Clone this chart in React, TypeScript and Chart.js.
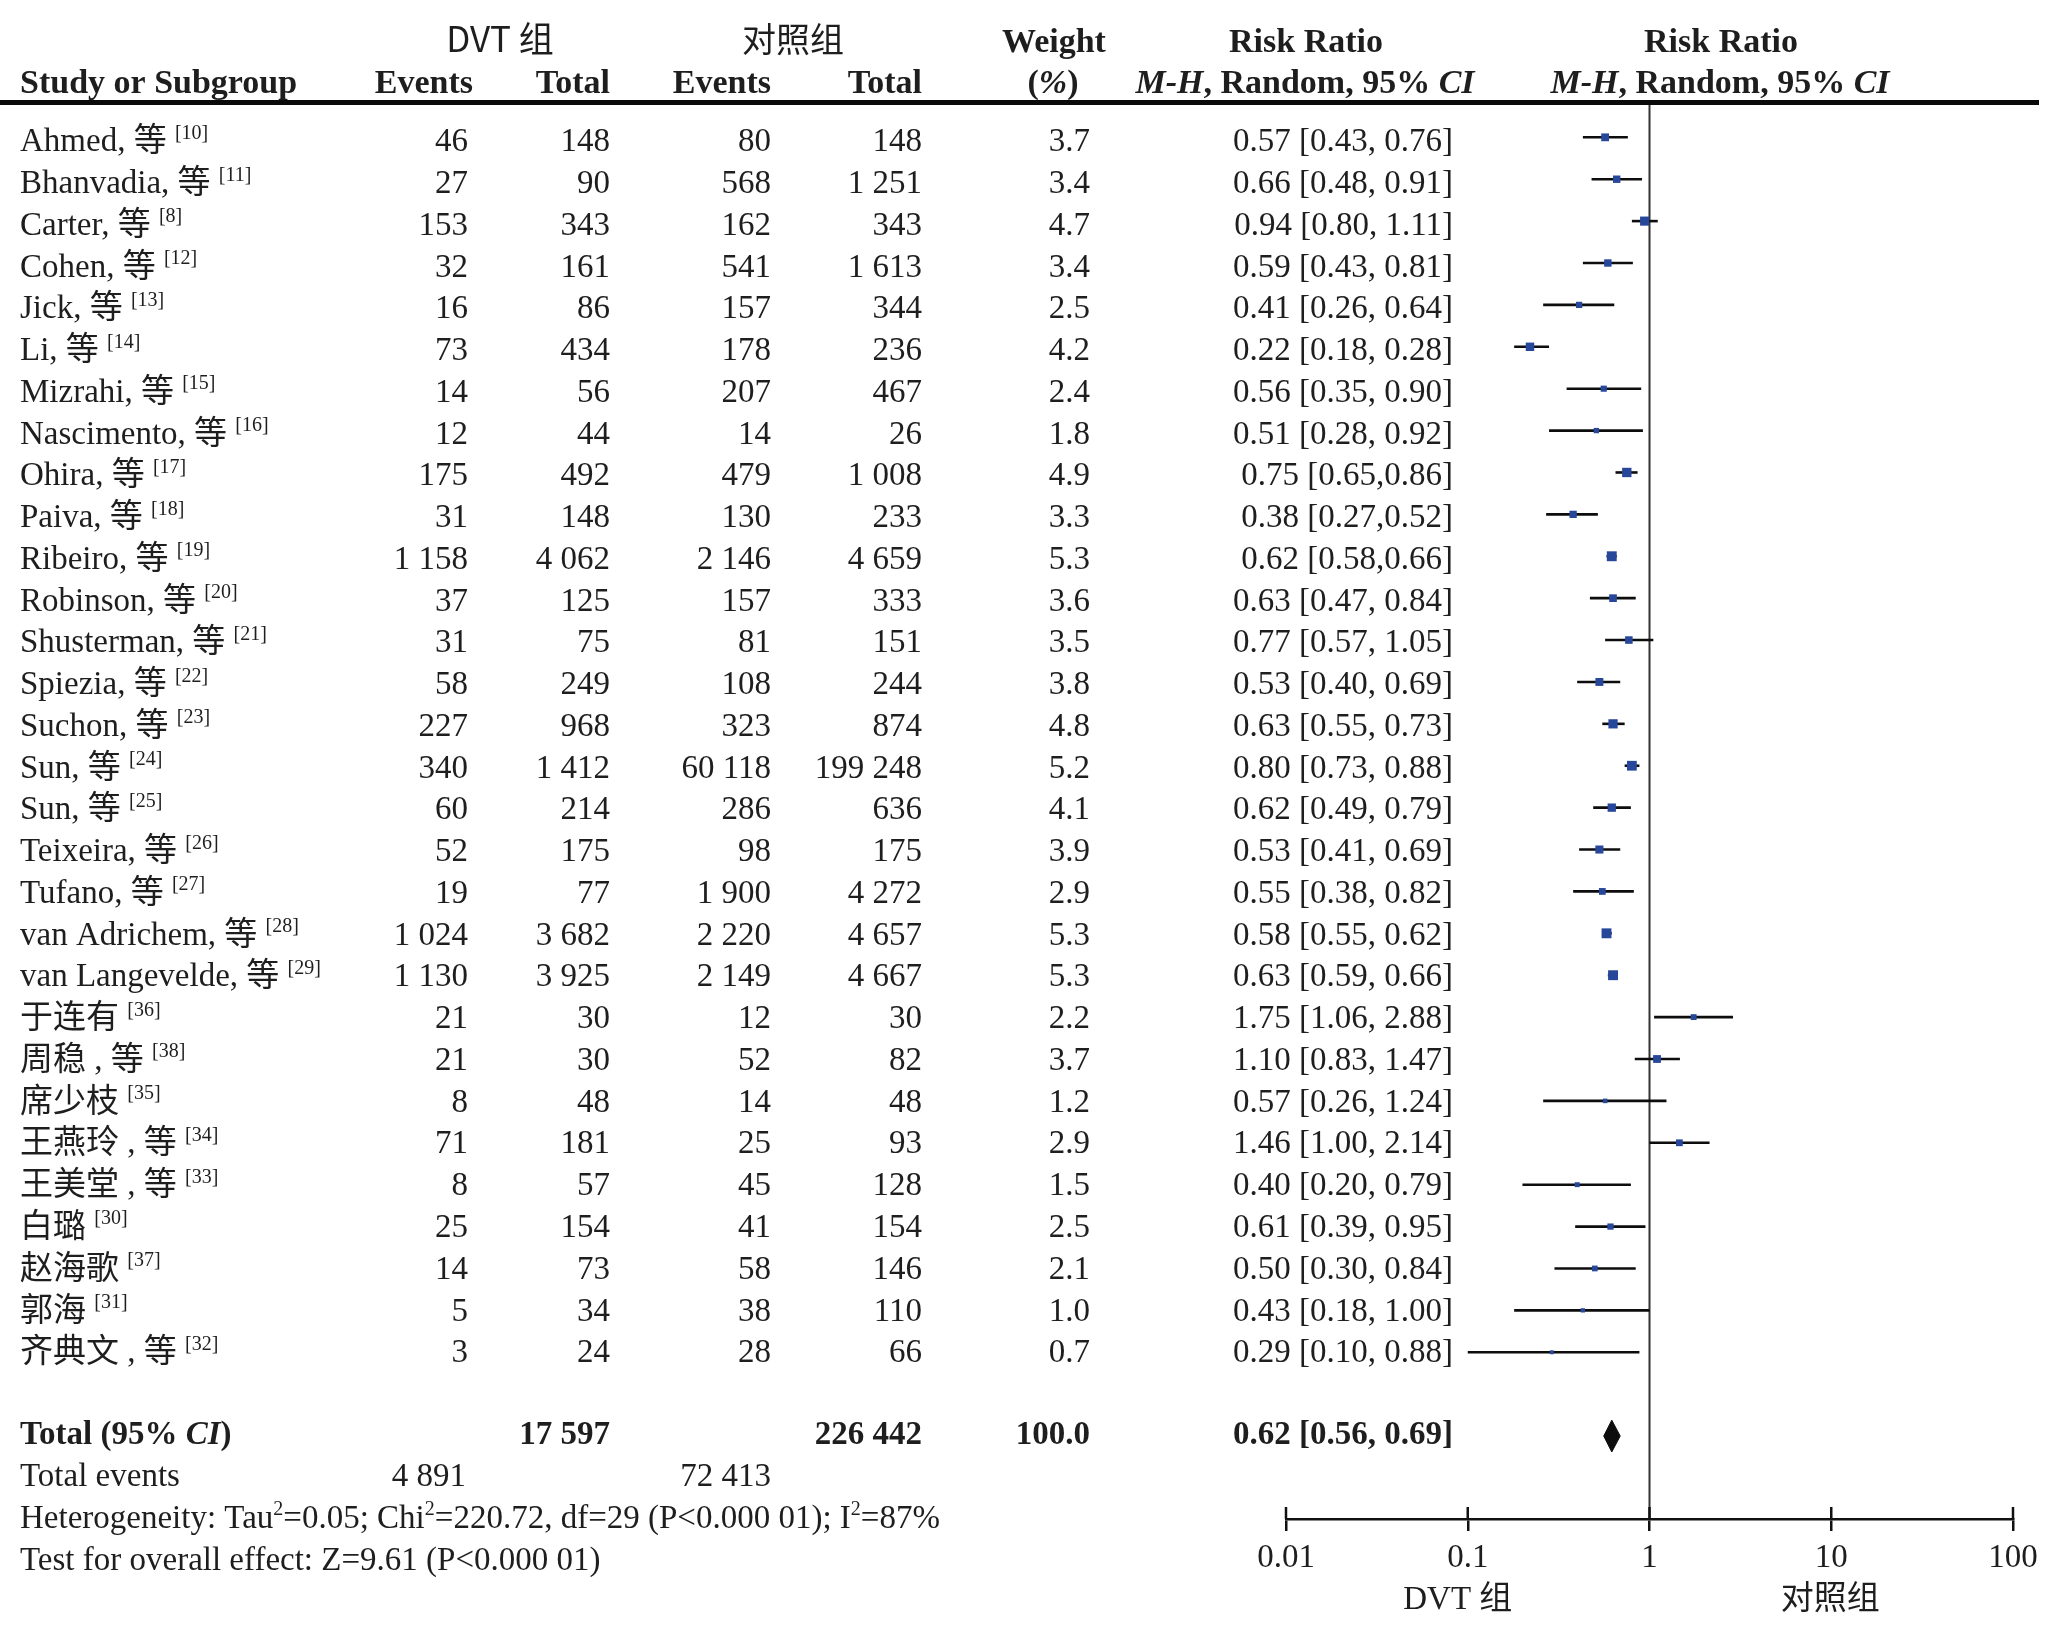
import React, { useEffect, useRef } from 'react';
import { Chart, registerables } from 'chart.js';

Chart.register(...registerables);

// ---------------- data ----------------
const studyNames = [
  'Ahmed, 等', 'Bhanvadia, 等', 'Carter, 等', 'Cohen, 等', 'Jick, 等', 'Li, 等',
  'Mizrahi, 等', 'Nascimento, 等', 'Ohira, 等', 'Paiva, 等', 'Ribeiro, 等',
  'Robinson, 等', 'Shusterman, 等', 'Spiezia, 等', 'Suchon, 等', 'Sun, 等', 'Sun, 等',
  'Teixeira, 等', 'Tufano, 等', 'van Adrichem, 等', 'van Langevelde, 等',
  '于连有', '周稳 , 等', '席少枝', '王燕玲 , 等', '王美堂 , 等', '白璐', '赵海歌', '郭海', '齐典文 , 等',
];
const studyRefs = [10, 11, 8, 12, 13, 14, 15, 16, 17, 18, 19, 20, 21, 22, 23, 24, 25, 26, 27, 28, 29, 36, 38, 35, 34, 33, 30, 37, 31, 32];
const dvtEvents = [46, 27, 153, 32, 16, 73, 14, 12, 175, 31, 1158, 37, 31, 58, 227, 340, 60, 52, 19, 1024, 1130, 21, 21, 8, 71, 8, 25, 14, 5, 3];
const dvtTotal = [148, 90, 343, 161, 86, 434, 56, 44, 492, 148, 4062, 125, 75, 249, 968, 1412, 214, 175, 77, 3682, 3925, 30, 30, 48, 181, 57, 154, 73, 34, 24];
const ctrlEvents = [80, 568, 162, 541, 157, 178, 207, 14, 479, 130, 2146, 157, 81, 108, 323, 60118, 286, 98, 1900, 2220, 2149, 12, 52, 14, 25, 45, 41, 58, 38, 28];
const ctrlTotal = [148, 1251, 343, 1613, 344, 236, 467, 26, 1008, 233, 4659, 333, 151, 244, 874, 199248, 636, 175, 4272, 4657, 4667, 30, 82, 48, 93, 128, 154, 146, 110, 66];
const weights = [3.7, 3.4, 4.7, 3.4, 2.5, 4.2, 2.4, 1.8, 4.9, 3.3, 5.3, 3.6, 3.5, 3.8, 4.8, 5.2, 4.1, 3.9, 2.9, 5.3, 5.3, 2.2, 3.7, 1.2, 2.9, 1.5, 2.5, 2.1, 1.0, 0.7];
const riskRatio = [0.57, 0.66, 0.94, 0.59, 0.41, 0.22, 0.56, 0.51, 0.75, 0.38, 0.62, 0.63, 0.77, 0.53, 0.63, 0.80, 0.62, 0.53, 0.55, 0.58, 0.63, 1.75, 1.10, 0.57, 1.46, 0.40, 0.61, 0.50, 0.43, 0.29];
const ciLower = [0.43, 0.48, 0.80, 0.43, 0.26, 0.18, 0.35, 0.28, 0.65, 0.27, 0.58, 0.47, 0.57, 0.40, 0.55, 0.73, 0.49, 0.41, 0.38, 0.55, 0.59, 1.06, 0.83, 0.26, 1.00, 0.20, 0.39, 0.30, 0.18, 0.10];
const ciUpper = [0.76, 0.91, 1.11, 0.81, 0.64, 0.28, 0.90, 0.92, 0.86, 0.52, 0.66, 0.84, 1.05, 0.69, 0.73, 0.88, 0.79, 0.69, 0.82, 0.62, 0.66, 2.88, 1.47, 1.24, 2.14, 0.79, 0.95, 0.84, 1.00, 0.88];
const compactCiRows = [8, 9, 10];

const pooledEstimate = 0.62;
const pooledLower = 0.56;
const pooledUpper = 0.69;
const totalDvt = 17597;
const totalCtrl = 226442;
const totalWeight = 100.0;
const totalEventsDvt = 4891;
const totalEventsCtrl = 72413;
const hetTau2 = '0.05';
const hetChi2 = '220.72';
const hetDf = 29;
const hetP = '0.000 01';
const hetI2 = 87;
const overallZ = '9.61';
const overallP = '0.000 01';

const tickValues = [0.01, 0.1, 1, 10, 100];
const tickLabels = ['0.01', '0.1', '1', '10', '100'];
const groupDvt = 'DVT 组';
const groupCtrl = '对照组';
const nullEffect = 1;

// ---------------- layout / style ----------------
const W = 2060;
const H = 1630;
const TEXT = '#1e1e1e';
const SERIF = '"Liberation Serif", "Noto Sans CJK SC", serif';
const SANS = '"Noto Sans CJK SC", "Liberation Sans", sans-serif';
const FS = 33;
const TOTAL_ROW = 31;

type Seg = { t: string; b?: boolean; i?: boolean; sup?: boolean; sans?: boolean };

function segFont(s: Seg, size: number) {
  const sz = s.sup ? Math.round(size * 0.6) : size;
  return `${s.i ? 'italic ' : ''}${s.b ? 'bold ' : ''}${sz}px ${s.sans ? SANS : SERIF}`;
}

function drawRich(ctx: CanvasRenderingContext2D, segs: Seg[], x: number, y: number, align: 'left' | 'right' | 'center', size = FS) {
  const widths = segs.map((s) => {
    ctx.font = segFont(s, size);
    return ctx.measureText(s.t).width;
  });
  const total = widths.reduce((a, b) => a + b, 0);
  let cx = align === 'left' ? x : align === 'right' ? x - total : x - total / 2;
  ctx.textAlign = 'left';
  segs.forEach((s, k) => {
    ctx.font = segFont(s, size);
    ctx.fillText(s.t, cx, s.sup ? y - size * 0.38 : y);
    cx += widths[k];
  });
}

function fmtInt(n: number) {
  return String(n).replace(/\B(?=(\d{3})+(?!\d))/g, ' ');
}

function fmtRR(rr: number, lo: number, hi: number, compact: boolean) {
  return `${rr.toFixed(2)} [${lo.toFixed(2)},${compact ? '' : ' '}${hi.toFixed(2)}]`;
}

const tablePlugin = {
  id: 'forestTable',
  beforeDatasetsDraw(chart: any) {
    const ctx: CanvasRenderingContext2D = chart.ctx;
    const xs = chart.scales.x;
    const { top, bottom } = chart.chartArea;
    const x1 = xs.getPixelForValue(nullEffect);
    ctx.save();
    ctx.strokeStyle = '#333';
    ctx.lineWidth = 2;
    ctx.beginPath();
    ctx.moveTo(x1, top);
    ctx.lineTo(x1, bottom);
    ctx.stroke();
    ctx.restore();
  },
  afterDraw(chart: any) {
    const ctx: CanvasRenderingContext2D = chart.ctx;
    const ys = chart.scales.y;
    const xs = chart.scales.x;
    const { bottom } = chart.chartArea;
    const n = studyNames.length;
    const rowBase = (r: number) => ys.getPixelForValue(r) + 14 - (4 * r) / (n - 1);
    const footBase = (r: number) => ys.getPixelForValue(r) + 8;
    ctx.save();
    ctx.fillStyle = TEXT;
    ctx.textBaseline = 'alphabetic';

    // header rule
    ctx.fillStyle = '#0a0a0a';
    ctx.fillRect(0, 100, 2039, 5);
    ctx.fillStyle = TEXT;

    // upper halves of axis ticks
    ctx.strokeStyle = '#111';
    ctx.lineWidth = 2.5;
    tickValues.forEach((v) => {
      const px = xs.getPixelForValue(v);
      ctx.beginPath();
      ctx.moveTo(px, bottom - 12);
      ctx.lineTo(px, bottom);
      ctx.stroke();
    });

    // header line 1
    const h1 = 52;
    drawRich(ctx, [{ t: groupDvt, sans: true }], 500, h1, 'center', 35);
    drawRich(ctx, [{ t: groupCtrl, sans: true }], 793, h1, 'center', 34);
    drawRich(ctx, [{ t: 'Weight', b: true }], 1054, h1, 'center', 34);
    drawRich(ctx, [{ t: 'Risk Ratio', b: true }], 1306, h1, 'center', 34);
    drawRich(ctx, [{ t: 'Risk Ratio', b: true }], 1721, h1, 'center', 34);

    // header line 2
    const h2 = 93;
    drawRich(ctx, [{ t: 'Study or Subgroup', b: true }], 20, h2, 'left', 34);
    drawRich(ctx, [{ t: 'Events', b: true }], 473, h2, 'right', 34);
    drawRich(ctx, [{ t: 'Total', b: true }], 610, h2, 'right', 34);
    drawRich(ctx, [{ t: 'Events', b: true }], 771, h2, 'right', 34);
    drawRich(ctx, [{ t: 'Total', b: true }], 922, h2, 'right', 34);
    drawRich(ctx, [{ t: '(', b: true }, { t: '%', b: true, i: true }, { t: ')', b: true }], 1053, h2, 'center', 34);
    const mh: Seg[] = [{ t: 'M-H', b: true, i: true }, { t: ', Random, 95% ', b: true }, { t: 'CI', b: true, i: true }];
    drawRich(ctx, mh, 1305, h2, 'center', 34);
    drawRich(ctx, mh, 1720, h2, 'center', 34);

    // study rows
    studyNames.forEach((name, i) => {
      const y = rowBase(i);
      drawRich(ctx, [{ t: name + ' ' }, { t: `[${studyRefs[i]}]`, sup: true }], 20, y, 'left');
      drawRich(ctx, [{ t: fmtInt(dvtEvents[i]) }], 468, y, 'right');
      drawRich(ctx, [{ t: fmtInt(dvtTotal[i]) }], 610, y, 'right');
      drawRich(ctx, [{ t: fmtInt(ctrlEvents[i]) }], 771, y, 'right');
      drawRich(ctx, [{ t: fmtInt(ctrlTotal[i]) }], 922, y, 'right');
      drawRich(ctx, [{ t: weights[i].toFixed(1) }], 1090, y, 'right');
      drawRich(ctx, [{ t: fmtRR(riskRatio[i], ciLower[i], ciUpper[i], compactCiRows.includes(i)) }], 1453, y, 'right');
    });

    // total row
    const yt = footBase(TOTAL_ROW);
    drawRich(ctx, [{ t: 'Total (95% ', b: true }, { t: 'CI', b: true, i: true }, { t: ')', b: true }], 20, yt, 'left');
    drawRich(ctx, [{ t: fmtInt(totalDvt), b: true }], 610, yt, 'right');
    drawRich(ctx, [{ t: fmtInt(totalCtrl), b: true }], 922, yt, 'right');
    drawRich(ctx, [{ t: totalWeight.toFixed(1), b: true }], 1090, yt, 'right');
    drawRich(ctx, [{ t: fmtRR(pooledEstimate, pooledLower, pooledUpper, false), b: true }], 1453, yt, 'right');

    const ye = footBase(TOTAL_ROW + 1);
    drawRich(ctx, [{ t: 'Total events' }], 20, ye, 'left');
    drawRich(ctx, [{ t: fmtInt(totalEventsDvt) }], 466, ye, 'right');
    drawRich(ctx, [{ t: fmtInt(totalEventsCtrl) }], 771, ye, 'right');

    const yh = footBase(TOTAL_ROW + 2);
    drawRich(ctx, [
      { t: 'Heterogeneity: Tau' }, { t: '2', sup: true }, { t: `=${hetTau2}; Chi` }, { t: '2', sup: true },
      { t: `=${hetChi2}, df=${hetDf} (P<${hetP}); I` }, { t: '2', sup: true }, { t: `=${hetI2}%` },
    ], 20, yh, 'left');
    const yz = footBase(TOTAL_ROW + 3);
    drawRich(ctx, [{ t: `Test for overall effect: Z=${overallZ} (P<${overallP})` }], 20, yz, 'left');

    // favour labels
    drawRich(ctx, [{ t: groupDvt }], xs.getPixelForValue(0.1) - 10, 1609, 'center');
    drawRich(ctx, [{ t: groupCtrl }], xs.getPixelForValue(10) - 1, 1609, 'center');

    ctx.restore();
  },
};

function buildConfig(): any {
  const ciDatasets = riskRatio.map((_, i) => ({
    label: `ci-${i}`,
    data: [{ x: ciLower[i], y: i }, { x: ciUpper[i], y: i }],
    showLine: true,
    borderColor: '#0d0d0d',
    borderWidth: 2.6,
    pointRadius: 0,
    order: 2,
  }));
  const markers = {
    label: 'estimates',
    data: riskRatio.map((v, i) => ({ x: v, y: i })),
    pointStyle: 'rect',
    pointRadius: (c: any) => (3 + 1.3 * weights[c.dataIndex]) / Math.SQRT2,
    backgroundColor: '#27479b',
    borderWidth: 0,
    order: 0,
  };
  const halfH = 0.38;
  const diamond = {
    label: 'pooled',
    data: [
      { x: pooledLower, y: TOTAL_ROW },
      { x: pooledEstimate, y: TOTAL_ROW - halfH },
      { x: pooledUpper, y: TOTAL_ROW },
      { x: pooledEstimate, y: TOTAL_ROW + halfH },
      { x: pooledLower, y: TOTAL_ROW },
    ],
    showLine: true,
    fill: 'shape',
    tension: 0,
    backgroundColor: '#0d0d0d',
    borderColor: '#0d0d0d',
    borderWidth: 1,
    pointRadius: 0,
    order: 1,
  };
  return {
    type: 'scatter',
    data: { datasets: [markers, diamond, ...ciDatasets] },
    options: {
      responsive: false,
      maintainAspectRatio: false,
      animation: false,
      devicePixelRatio: 1,
      layout: { padding: { left: 1286, right: 47, top: 102, bottom: 11 } },
      plugins: { legend: { display: false }, tooltip: { enabled: false } },
      events: [],
      scales: {
        x: {
          type: 'logarithmic',
          min: tickValues[0],
          max: tickValues[tickValues.length - 1],
          position: 'bottom',
          afterBuildTicks: (s: any) => {
            s.ticks = tickValues.map((v) => ({ value: v }));
          },
          afterFit: (s: any) => {
            s.height = 100;
          },
          ticks: {
            autoSkip: false,
            maxRotation: 0,
            padding: 8,
            color: TEXT,
            font: { family: SERIF, size: FS },
            callback: (v: any) => {
              const k = tickValues.indexOf(Number(v));
              return k >= 0 ? tickLabels[k] : '';
            },
          },
          grid: { drawOnChartArea: false, drawTicks: true, tickLength: 12, color: '#111', lineWidth: 2.5 },
          border: { display: true, color: '#111', width: 2.5 },
        },
        y: {
          type: 'linear',
          display: false,
          reverse: true,
          min: -0.843,
          max: 32.98,
        },
      },
    },
    plugins: [tablePlugin],
  };
}

export default function App() {
  const ref = useRef<HTMLCanvasElement | null>(null);
  useEffect(() => {
    if (!ref.current) return;
    const chart = new Chart(ref.current, buildConfig());
    return () => chart.destroy();
  }, []);
  return (
    <div style={{ position: 'fixed', left: 0, top: 0, width: W, height: H, background: '#fff' }}>
      <canvas ref={ref} width={W} height={H} style={{ width: W, height: H, display: 'block' }} />
    </div>
  );
}
